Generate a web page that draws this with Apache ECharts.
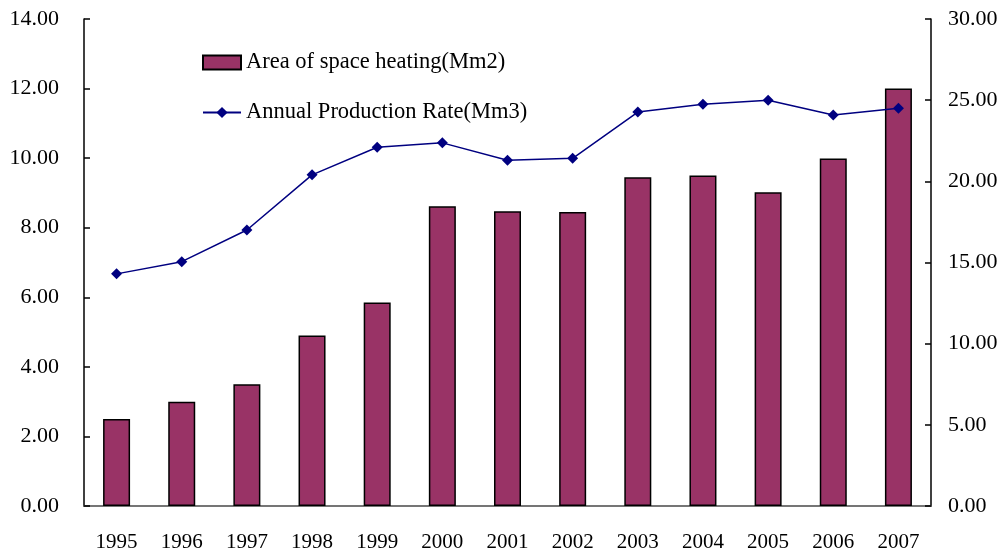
<!DOCTYPE html>
<html><head><meta charset="utf-8">
<script src="https://cdn.jsdelivr.net/npm/echarts@6/dist/echarts.min.js"></script>
<style>html,body{margin:0;padding:0;background:#fff}#c{width:1003px;height:554px}</style>
</head><body><div id="c"></div>
<script>
var years = ['1995','1996','1997','1998','1999','2000','2001','2002','2003','2004','2005','2006','2007'];
var areaHeating = [2.5, 3.0, 3.5, 4.9, 5.85, 8.62, 8.47, 8.45, 9.45, 9.5, 9.02, 9.99, 12.0];
var productionRate = [14.3, 15.05, 17.0, 20.4, 22.1, 22.37, 21.3, 21.42, 24.27, 24.75, 25.0, 24.08, 24.5];
var leftTicks = {min: 0, max: 14, interval: 2};
var rightTicks = {min: 0, max: 30, interval: 5};
var font = 'Liberation Serif';
var chart = echarts.init(document.getElementById('c'));
chart.setOption({
  animation: false,
  textStyle: {fontFamily: font},
  grid: {left: 84, right: 72, top: 19, bottom: 48, containLabel: false},
  legend: {
    orient: 'vertical', left: 197, top: 46, itemGap: 27, itemWidth: 38, itemHeight: 14,
    textStyle: {fontFamily: font, fontSize: 22.5, color: '#000'},
    data: [
      {name: 'Area of space heating(Mm2)', icon: 'rect'},
      {name: 'Annual Production Rate(Mm3)'}
    ]
  },
  xAxis: [{
    type: 'category', data: years, boundaryGap: true,
    axisLine: {lineStyle: {color: '#000', width: 1.5}},
    axisTick: {inside: true, length: 6, lineStyle: {color: '#000', width: 1.5}},
    axisLabel: {fontFamily: font, fontSize: 21, color: '#000', margin: 26}
  }, {
    type: 'category', data: years, position: 'top',
    axisLine: {lineStyle: {color: '#888', width: 1.5}},
    axisTick: {show: false}, axisLabel: {show: false}
  }],
  yAxis: [{
    type: 'value', min: leftTicks.min, max: leftTicks.max, interval: leftTicks.interval,
    axisLine: {show: true, lineStyle: {color: '#000', width: 1.5}},
    axisTick: {show: true, inside: true, length: 6, lineStyle: {color: '#000', width: 1.5}},
    splitLine: {show: false},
    axisLabel: {fontFamily: font, fontSize: 22, color: '#000', margin: 25,
      formatter: function(v){return v.toFixed(2);}}
  }, {
    type: 'value', min: rightTicks.min, max: rightTicks.max, interval: rightTicks.interval, position: 'right',
    axisLine: {show: true, lineStyle: {color: '#000', width: 1.5}},
    axisTick: {show: true, inside: true, length: 6, lineStyle: {color: '#000', width: 1.5}},
    splitLine: {show: false},
    axisLabel: {fontFamily: font, fontSize: 22, color: '#000', margin: 17,
      formatter: function(v){return v.toFixed(2);}}
  }],
  series: [{
    name: 'Area of space heating(Mm2)', type: 'bar', data: areaHeating, yAxisIndex: 0,
    barWidth: 27,
    itemStyle: {color: '#993366', borderColor: '#000', borderWidth: 1.5}
  }, {
    name: 'Annual Production Rate(Mm3)', type: 'line', data: productionRate, yAxisIndex: 1,
    symbol: 'diamond', symbolSize: 11,
    lineStyle: {color: '#000080', width: 1.5},
    itemStyle: {color: '#000080'}
  }]
});
</script></body></html>
